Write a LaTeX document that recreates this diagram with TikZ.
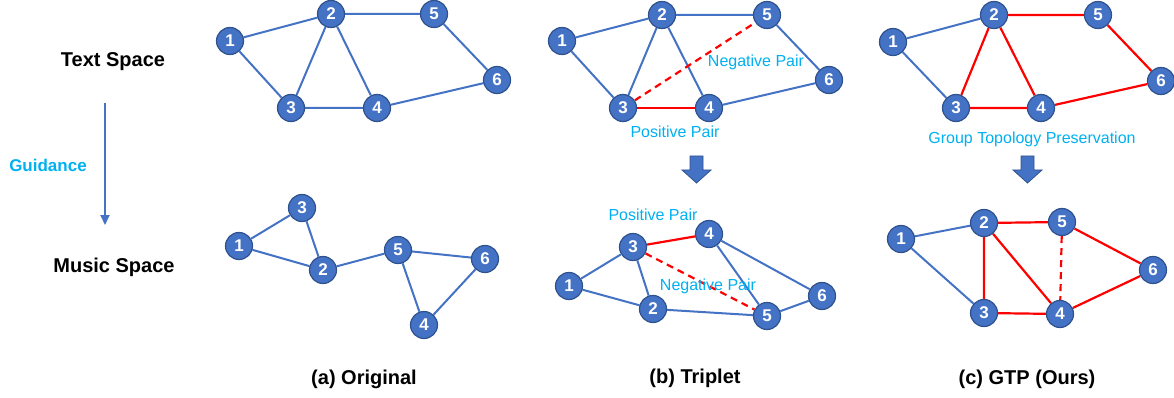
\documentclass[tikz,border=0pt]{standalone}
\usepackage{fontspec}
\setmainfont{Liberation Sans}
\usetikzlibrary{arrows.meta,backgrounds}
\definecolor{nblue}{HTML}{4472C4}
\definecolor{nedge}{HTML}{2F528F}
\definecolor{lcyan}{HTML}{00B0F0}
\definecolor{lred}{HTML}{FF0000}
\begin{document}
\begin{tikzpicture}[x=1pt,y=-1pt,
  vtx/.style={circle,fill=nblue,draw=nedge,line width=1.2pt,minimum size=27pt,inner sep=0pt,text=white,font=\fontsize{17}{17}\selectfont\bfseries},
  be/.style={draw=nblue,line width=2pt},
  re/.style={draw=lred,line width=2.2pt},
  rd/.style={draw=lred,line width=2.2pt,dash pattern=on 7pt off 5pt},
  lab/.style={text=lcyan,font=\fontsize{16}{16}\selectfont},
  ttl/.style={font=\fontsize{20}{20}\selectfont\bfseries},
  barrow/.style={fill=nblue,draw=nedge,line width=0.8pt}
]
\useasboundingbox (0,0) rectangle (1174,398);

% left labels
\node[ttl] (ts) at (113,62) {Text Space};
\node[ttl] (ms) at (114,267) {Music Space};
\node[font=\fontsize{17}{17}\selectfont\bfseries,text=lcyan] (gd) at (48,165) {Guidance};
\coordinate (g1) at (105,103);
\coordinate (g2) at (105,225);
\draw[nblue,line width=2pt,-{Triangle[width=9pt,length=10pt]}] (g1) -- (g2);

% (a) top
\node[vtx] (a1) at (230,41) {1};
\node[vtx] (a2) at (331,14) {2};
\node[vtx] (a5) at (434,14) {5};
\node[vtx] (a3) at (291,108) {3};
\node[vtx] (a4) at (377,108) {4};
\node[vtx] (a6) at (497,80) {6};
% (a) bottom
\node[vtx] (b3) at (302,208) {3};
\node[vtx] (b1) at (239,246) {1};
\node[vtx] (b2) at (323,270) {2};
\node[vtx] (b5) at (398,250) {5};
\node[vtx] (b6) at (485,259) {6};
\node[vtx] (b4) at (424,325) {4};

% (b) top
\node[vtx] (c1) at (562,41) {1};
\node[vtx] (c2) at (662,15) {2};
\node[vtx] (c5) at (767,15) {5};
\node[vtx] (c6) at (829,80) {6};
\node[vtx] (c3) at (623,108) {3};
\node[vtx] (c4) at (709,108) {4};
% (b) bottom
\node[vtx] (d3) at (633,247) {3};
\node[vtx] (d4) at (709,234) {4};
\node[vtx] (d1) at (569,286) {1};
\node[vtx] (d2) at (653,309) {2};
\node[vtx] (d5) at (767,316) {5};
\node[vtx] (d6) at (822,296) {6};

% (c) top
\node[vtx] (e1) at (893,42) {1};
\node[vtx] (e2) at (994,15) {2};
\node[vtx] (e5) at (1098,15) {5};
\node[vtx] (e6) at (1161,81) {6};
\node[vtx] (e3) at (956,108) {3};
\node[vtx] (e4) at (1041,108) {4};
% (c) bottom
\node[vtx] (f1) at (901,239) {1};
\node[vtx] (f2) at (984,223) {2};
\node[vtx] (f5) at (1062,222) {5};
\node[vtx] (f6) at (1153,270) {6};
\node[vtx] (f3) at (984,313) {3};
\node[vtx] (f4) at (1060,314) {4};

\begin{pgfonlayer}{background}
% (a)
\draw[be] (a1)--(a2) (a1)--(a3) (a2)--(a3) (a2)--(a4) (a2)--(a5) (a3)--(a4) (a4)--(a6) (a5)--(a6);
\draw[be] (b1)--(b3) (b3)--(b2) (b1)--(b2) (b2)--(b5) (b5)--(b6) (b5)--(b4) (b4)--(b6);
% (b)
\draw[be] (c1)--(c2) (c1)--(c3) (c2)--(c3) (c2)--(c4) (c2)--(c5) (c5)--(c6) (c6)--(c4);
\draw[re] (c3)--(c4);
\draw[rd] (c3)--(c5);
\draw[be] (d1)--(d3) (d1)--(d2) (d3)--(d2) (d2)--(d5) (d5)--(d6) (d4)--(d5) (d4)--(d6);
\draw[re] (d3)--(d4);
\draw[rd] (d3)--(d5);
% (c)
\draw[be] (e1)--(e2) (e1)--(e3);
\draw[re] (e2)--(e3) (e2)--(e4) (e2)--(e5) (e5)--(e6) (e6)--(e4) (e3)--(e4);
\draw[be] (f1)--(f2) (f1)--(f3);
\draw[re] (f2)--(f5) (f2)--(f3) (f2)--(f4) (f3)--(f4) (f4)--(f6) (f5)--(f6);
\draw[rd] (f5)--(f4);
\end{pgfonlayer}

% labels
\node[lab] (np1) at (756,62) {Negative Pair};
\node[lab] (pp1) at (675,132) {Positive Pair};
\node[lab] (pp2) at (653,215) {Positive Pair};
\node[lab] (np2) at (708,286) {Negative Pair};
\node[lab] (gtp) at (1032,139) {Group Topology Preservation};

% block arrows
\draw[barrow] (690,156) -- (703,156) -- (703,170) -- (711,170) -- (696.5,183) -- (682,170) -- (690,170) -- cycle;
\draw[barrow] (1021,156) -- (1034,156) -- (1034,170) -- (1042,170) -- (1027.5,183) -- (1013,170) -- (1021,170) -- cycle;

% captions
\node[ttl] (capa) at (364,379) {(a) Original};
\node[ttl] (capb) at (695,378) {(b) Triplet};
\node[ttl] (capc) at (1027,379) {(c) GTP (Ours)};
\end{tikzpicture}
\end{document}
